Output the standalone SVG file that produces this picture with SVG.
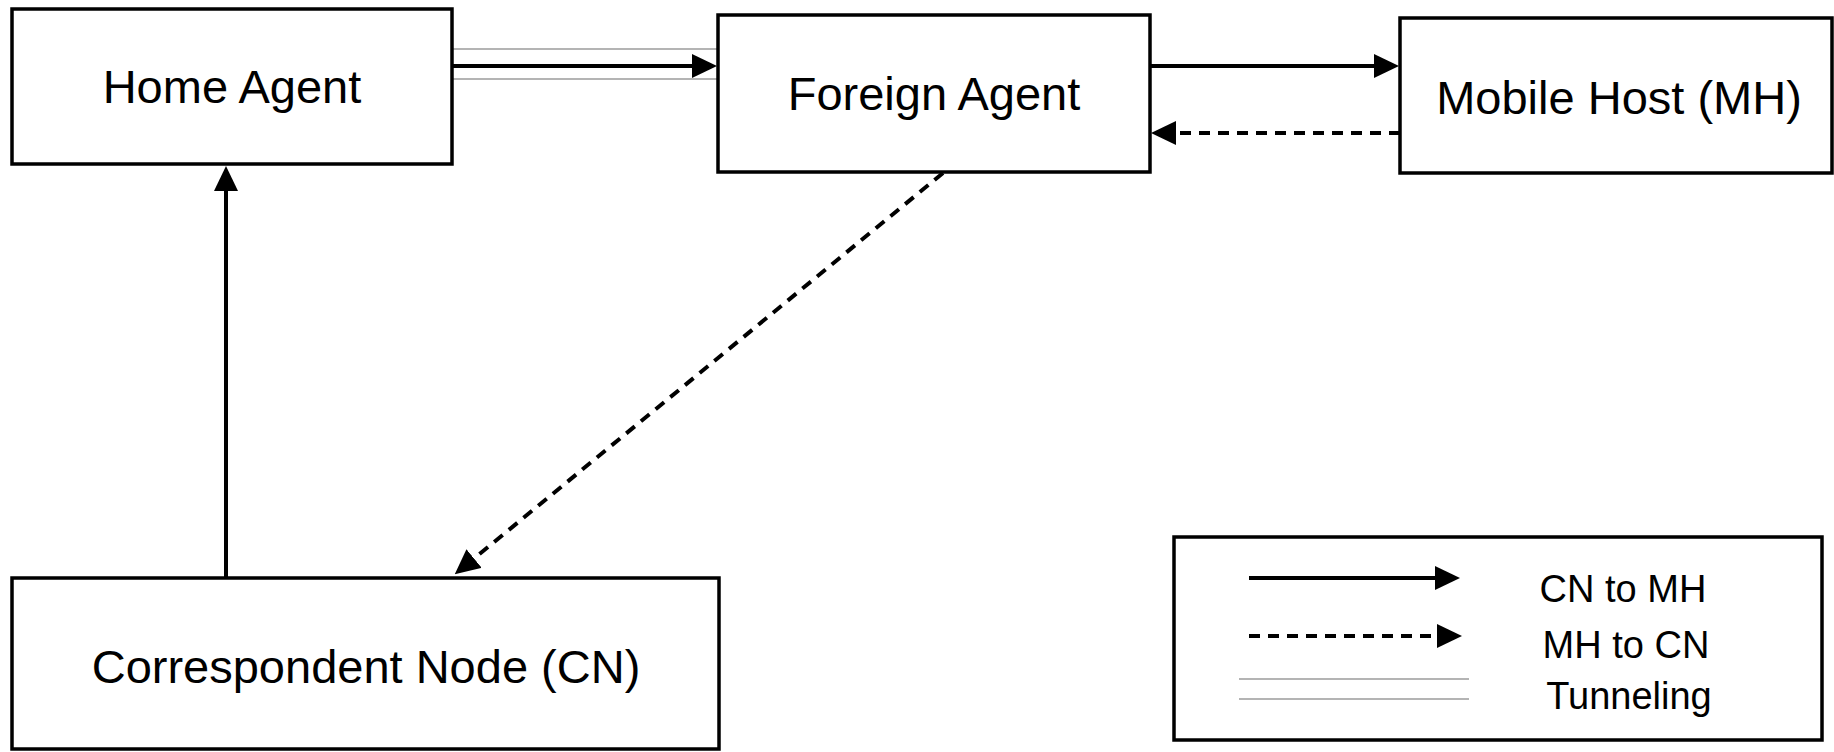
<svg xmlns="http://www.w3.org/2000/svg" width="1834" height="752" viewBox="0 0 1834 752">
  <defs>
    <style>
      .box { fill: #ffffff; stroke: #000000; stroke-width: 3.5; }
      .label { font-family: "Liberation Sans", Arial, sans-serif; font-size: 47px; fill: #000000; text-anchor: middle; }
      .legend-label { font-family: "Liberation Sans", Arial, sans-serif; font-size: 38px; fill: #000000; text-anchor: middle; }
      .solid { stroke: #000000; stroke-width: 4; fill: none; }
      .dashed { stroke: #000000; stroke-width: 4; fill: none; stroke-dasharray: 11 8; }
      .tunnel { stroke: #b4b4b4; stroke-width: 2; fill: none; }
    </style>
    <marker id="arrow" viewBox="0 0 25 24" markerWidth="25" markerHeight="24" refX="1" refY="12" orient="auto" markerUnits="userSpaceOnUse">
      <path d="M0,0 L25,12 L0,24 Z" fill="#000000"/>
    </marker>
  </defs>
  <rect x="0" y="0" width="1834" height="752" fill="#ffffff"/>

  <g id="connectors">
    <line class="tunnel" x1="452" y1="49" x2="718" y2="49"/>
    <line class="tunnel" x1="452" y1="79" x2="718" y2="79"/>
    <line class="solid" x1="452" y1="66" x2="693" y2="66" marker-end="url(#arrow)"/>
    <line class="solid" x1="1150" y1="66" x2="1375" y2="66" marker-end="url(#arrow)"/>
    <line class="dashed" x1="1400" y1="133" x2="1175" y2="133" marker-end="url(#arrow)"/>
    <line class="dashed" x1="943" y1="173" x2="473.3" y2="559.1" marker-end="url(#arrow)"/>
    <line class="solid" x1="226" y1="578" x2="226" y2="190" marker-end="url(#arrow)"/>
  </g>

  <g id="home-agent">
    <rect class="box" x="12" y="9" width="440" height="155"/>
    <text class="label" x="232" y="103">Home Agent</text>
  </g>

  <g id="foreign-agent">
    <rect class="box" x="718" y="15" width="432" height="157"/>
    <text class="label" x="934" y="110">Foreign Agent</text>
  </g>

  <g id="mobile-host">
    <rect class="box" x="1400" y="18" width="432" height="155"/>
    <text class="label" x="1619" y="114">Mobile Host (MH)</text>
  </g>

  <g id="correspondent-node">
    <rect class="box" x="12" y="578" width="707" height="171"/>
    <text class="label" x="366" y="683">Correspondent Node (CN)</text>
  </g>

  <g id="legend">
    <rect class="box" x="1174" y="537" width="648" height="203"/>
    <line class="solid" x1="1249" y1="578" x2="1436" y2="578" marker-end="url(#arrow)"/>
    <line class="dashed" x1="1249" y1="636" x2="1438" y2="636" marker-end="url(#arrow)"/>
    <line class="tunnel" x1="1239" y1="679" x2="1469" y2="679"/>
    <line class="tunnel" x1="1239" y1="699" x2="1469" y2="699"/>
    <text class="legend-label" x="1623" y="602">CN to MH</text>
    <text class="legend-label" x="1626" y="658">MH to CN</text>
    <text class="legend-label" x="1629" y="709">Tunneling</text>
  </g>
</svg>
